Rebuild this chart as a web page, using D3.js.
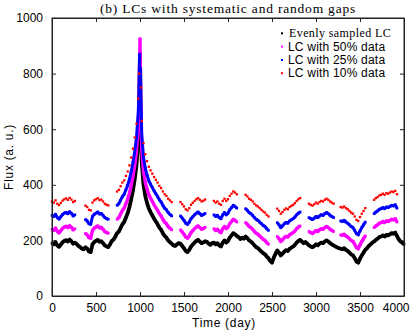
<!DOCTYPE html>
<html>
<head>
<meta charset="utf-8">
<script src="https://cdn.jsdelivr.net/npm/d3@7"></script>
<style>
  body { margin: 0; background: #fff; }
  svg { display: block; }
  .tick text { font-family: "Liberation Sans", Arial, sans-serif; font-size: 12px; fill: #000; }
  .axis path, .axis line { stroke: #222; }
</style>
</head>
<body>
<script>
var width = 415, height = 332;
var margin = {top: 18, right: 11, bottom: 36, left: 52};
var w = width - margin.left - margin.right,
    h = height - margin.top - margin.bottom;

// evenly sampled light curve, one value every 20 days, day 0 .. 4000
var flux = [
  190, 186, 194, 182, 177, 185, 193, 198, 201, 196,
  203, 197, 188, 192, 187, 180, 176, 170, 168, 175,
  170, 160, 158, 186, 194, 198, 202, 195, 197, 190,
  182, 178, 176, 186, 198, 203, 214, 226, 232, 245,
  258, 266, 282, 298, 320, 348, 380, 420, 470, 560,
  875, 480, 400, 360, 335, 315, 302, 290, 278, 268,
  258, 246, 238, 226, 216, 210, 200, 194, 188, 182,
  180, 186, 190, 188, 180, 172, 162, 158, 166, 178,
  185, 192, 198, 202, 196, 190, 193, 197, 195, 188,
  184, 190, 192, 186, 190, 182, 178, 192, 200, 192,
  198, 210, 218, 226, 222, 216, 212, 205, 210, 206,
  214, 208, 200, 196, 190, 182, 176, 172, 166, 160,
  154, 150, 142, 136, 126, 120, 138, 152, 164, 156,
  146, 152, 160, 165, 162, 170, 174, 178, 184, 192,
  198, 202, 196, 190, 194, 188, 182, 178, 175, 180,
  186, 182, 188, 192, 190, 196, 200, 196, 190, 186,
  182, 178, 175, 172, 170, 168, 172, 166, 162, 156,
  150, 146, 136, 124, 120, 134, 146, 156, 166, 172,
  180, 186, 192, 196, 202, 206, 212, 214, 218, 214,
  220, 218, 222, 226, 224, 228, 216, 204, 196, 192,
  186
];
// extra samples on the flare peak
var peakDays = [990, 995, 1005, 1010];
var peakFlux = [650, 770, 720, 600];

// display offsets of the gapped curves
var offset50 = 50, offset25 = 100, offset10 = 150;

// observing seasons (days) of each gapped curve
var seasons50 = [[0, 270], [375, 650], [730, 1370], [1460, 1745], [1830, 2105],
                 [2190, 2470], [2550, 2835], [2905, 3200], [3265, 3575], [3655, 3930]];
var seasons25 = [[0, 270], [375, 650], [730, 998], [1002, 1370], [1460, 1745], [1830, 2105],
                 [2190, 2470], [2550, 2835], [2905, 3200], [3265, 3575], [3655, 3930]];
var seasons10 = [[0, 270], [375, 650], [730, 992], [1008, 1370], [1460, 1745], [1830, 2105],
                 [2190, 2470], [2550, 2835], [2905, 3200], [3265, 3575], [3655, 3930]];

var legendLabels = ["Evenly sampled LC", "LC with 50% data", "LC with 25% data", "LC with 10% data"];
var legendColors = ["#000000", "#ff00ff", "#0000ff", "#ff0000"];
var xTicks = [0, 500, 1000, 1500, 2000, 2500, 3000, 3500, 4000];
var yTicks = [0, 200, 400, 600, 800, 1000];

var days = d3.range(0, 4001, 20);
var base = days.map(function(d, i) { return {t: d, f: flux[i]}; });
peakDays.forEach(function(d, i) { base.push({t: d, f: peakFlux[i]}); });
base.sort(function(a, b) { return a.t - b.t; });

function gapped(windows, off) {
  return windows.map(function(win) {
    return base.filter(function(p) { return p.t >= win[0] && p.t <= win[1]; })
      .map(function(p) { return {t: p.t, f: p.f + off}; });
  });
}

var x = d3.scaleLinear().domain([0, 4000]).range([0, w]);
var y = d3.scaleLinear().domain([0, 1000]).range([h, 0]);

var svg = d3.select("body").append("svg")
    .attr("width", width)
    .attr("height", height);

var g = svg.append("g").attr("transform", "translate(" + margin.left + "," + margin.top + ")");

var line = d3.line()
    .x(function(d) { return x(d.t); })
    .y(function(d) { return y(d.f); });

function dots(cls, data, size, color) {
  g.selectAll("." + cls)
      .data(data)
      .enter().append("rect")
      .attr("class", cls)
      .attr("x", function(d) { return x(d.t) - size / 2; })
      .attr("y", function(d) { return y(d.f) - size / 2; })
      .attr("width", size).attr("height", size)
      .attr("fill", color);
}

// evenly sampled curve
g.append("path")
    .datum(base)
    .attr("d", line)
    .attr("fill", "none")
    .attr("stroke", "#000")
    .attr("stroke-width", 3.8)
    .attr("stroke-linejoin", "round");
dots("p0", base, 2.6, "#000");

// 50% curve
var s50 = gapped(seasons50, offset50);
g.selectAll(".s50")
    .data(s50)
    .enter().append("path")
    .attr("class", "s50")
    .attr("d", line)
    .attr("fill", "none")
    .attr("stroke", "#ff00ff")
    .attr("stroke-width", 3.4)
    .attr("stroke-linejoin", "round");
dots("p50", d3.merge(s50), 2.6, "#ff00ff");

// 25% curve
var s25 = gapped(seasons25, offset25);
g.selectAll(".s25")
    .data(s25)
    .enter().append("path")
    .attr("class", "s25")
    .attr("d", line)
    .attr("fill", "none")
    .attr("stroke", "#0000ff")
    .attr("stroke-width", 3)
    .attr("stroke-linejoin", "round");
dots("p25", d3.merge(s25), 2.6, "#0000ff");

// 10% curve, points only
dots("p10", d3.merge(gapped(seasons10, offset10)), 2.3, "#ff0000");

// axes, ticks pointing inward on all four sides
var xAxis = g.append("g").attr("class", "axis")
    .attr("transform", "translate(0," + h + ")")
    .call(d3.axisBottom(x).tickValues(xTicks).tickSize(-4).tickSizeOuter(0)
      .tickPadding(7).tickFormat(d3.format("d")));
// last label kept inside the picture
xAxis.selectAll(".tick text")
    .filter(function(d) { return d === 4000; })
    .attr("text-anchor", "end")
    .attr("dx", "5");
g.append("g").attr("class", "axis")
    .call(d3.axisLeft(y).tickValues(yTicks).tickSize(-4).tickSizeOuter(0)
      .tickPadding(9).tickFormat(d3.format("d")));
g.append("g").attr("class", "axis")
    .call(d3.axisTop(x).tickValues(xTicks).tickSize(-4).tickSizeOuter(0).tickFormat(""));
g.append("g").attr("class", "axis")
    .attr("transform", "translate(" + w + ",0)")
    .call(d3.axisRight(y).tickValues(yTicks).tickSize(-4).tickSizeOuter(0).tickFormat(""));
g.append("rect")
    .attr("width", w).attr("height", h)
    .attr("fill", "none").attr("stroke", "#222");

// titles
svg.append("text")
    .attr("x", 228).attr("y", 13)
    .attr("text-anchor", "middle")
    .style("font-family", "'Liberation Serif', 'Times New Roman', serif")
    .style("font-size", "13.5px")
    .style("letter-spacing", "0.8px")
    .text("(b) LCs with systematic and random gaps");

svg.append("text")
    .attr("x", 224).attr("y", 327)
    .attr("text-anchor", "middle")
    .style("font-family", "'Liberation Sans', Arial, sans-serif")
    .style("font-size", "12px")
    .style("letter-spacing", "0.7px")
    .text("Time (day)");

svg.append("text")
    .attr("transform", "translate(13,157) rotate(-90)")
    .attr("text-anchor", "middle")
    .style("font-family", "'Liberation Sans', Arial, sans-serif")
    .style("font-size", "12px")
    .style("letter-spacing", "0.7px")
    .text("Flux (a. u.)");

// legend
var legend = svg.append("g");
legendLabels.forEach(function(lab, i) {
  var cy = 33.3 + i * 13.3;
  legend.append("rect")
      .attr("x", 281).attr("y", cy - 1)
      .attr("width", 2).attr("height", 2)
      .attr("fill", legendColors[i]);
  legend.append("text")
      .attr("x", i === 0 ? 289 : 288).attr("y", cy + 4)
      .style("font-family", i === 0 ? "'Liberation Serif', 'Times New Roman', serif" : "'Liberation Sans', Arial, sans-serif")
      .style("font-size", "12px")
      .style("letter-spacing", i === 0 ? "0.4px" : "0.2px")
      .text(lab);
});
</script>
</body>
</html>
